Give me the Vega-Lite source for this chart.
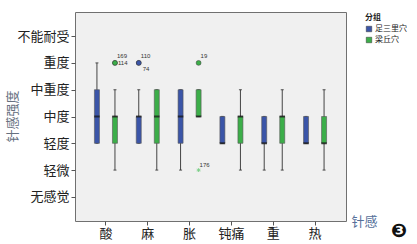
{
  "$schema": "https://vega.github.io/schema/vega-lite/v6.json",
  "width": 271,
  "height": 209,
  "autosize": "none",
  "padding": {"left": 75, "top": 12, "right": 71, "bottom": 23},
  "background": "#ffffff",
  "title": {"text": "❸", "orient": "bottom", "anchor": "end", "frame": "group", "font": "DejaVu Sans", "fontSize": 19, "color": "#111111", "dx": 61, "dy": -18, "offset": 0},
  "config": {
    "view": {"fill": "#f0f0f0", "stroke": "#707070", "strokeWidth": 1},
    "axis": {"grid": false, "domain": false, "tickColor": "#555555", "tickSize": 4, "labelFont": "Noto Sans CJK SC", "labelFontSize": 13, "labelColor": "#222222", "titleFont": "Noto Sans CJK SC", "titleFontSize": 13, "titleFontWeight": "normal", "labelOverlap": false},
    "legend": {"labelFont": "Noto Sans CJK SC", "titleFont": "Noto Sans CJK SC"}
  },
  "datasets": {
    "boxes": [
      {"cat": "酸", "group": "足三里穴", "lo": 3, "q1": 3, "med": 4, "q3": 5, "hi": 6},
      {"cat": "酸", "group": "梁丘穴", "lo": 2, "q1": 3, "med": 4, "q3": 4, "hi": 5},
      {"cat": "麻", "group": "足三里穴", "lo": 3, "q1": 3, "med": 4, "q3": 4, "hi": 5},
      {"cat": "麻", "group": "梁丘穴", "lo": 2, "q1": 3, "med": 4, "q3": 5, "hi": 5},
      {"cat": "胀", "group": "足三里穴", "lo": 2, "q1": 3, "med": 4, "q3": 5, "hi": 5},
      {"cat": "胀", "group": "梁丘穴", "lo": 4, "q1": 4, "med": 4, "q3": 5, "hi": 5},
      {"cat": "钝痛", "group": "足三里穴", "lo": 3, "q1": 3, "med": 3, "q3": 4, "hi": 4},
      {"cat": "钝痛", "group": "梁丘穴", "lo": 2, "q1": 3, "med": 4, "q3": 4, "hi": 5},
      {"cat": "重", "group": "足三里穴", "lo": 2, "q1": 3, "med": 3, "q3": 4, "hi": 4},
      {"cat": "重", "group": "梁丘穴", "lo": 2, "q1": 3, "med": 4, "q3": 4, "hi": 5},
      {"cat": "热", "group": "足三里穴", "lo": 3, "q1": 3, "med": 3, "q3": 4, "hi": 4},
      {"cat": "热", "group": "梁丘穴", "lo": 2, "q1": 3, "med": 3, "q3": 4, "hi": 5}
    ],
    "outliers": [
      {"cat": "酸", "group": "梁丘穴", "value": 6, "id": "169", "kind": "outlier"},
      {"cat": "酸", "group": "梁丘穴", "value": 6, "id": "114", "kind": "outlier"},
      {"cat": "麻", "group": "足三里穴", "value": 6, "id": "110", "kind": "outlier"},
      {"cat": "麻", "group": "足三里穴", "value": 6, "id": "74", "kind": "outlier"},
      {"cat": "胀", "group": "梁丘穴", "value": 6, "id": "19", "kind": "outlier"},
      {"cat": "胀", "group": "梁丘穴", "value": 2, "id": "176", "kind": "extreme"}
    ]
  },
  "encoding": {
    "x": {"field": "cat", "type": "nominal", "sort": ["酸", "麻", "胀", "钝痛", "重", "热"],
      "scale": {"paddingInner": 0, "paddingOuter": 0.24},
      "axis": {"labelAngle": 0, "labelPadding": 2, "title": "针感", "titleColor": "#56709a", "titleX": 289, "titleY": 0, "titleAlign": "center", "titleBaseline": "middle"}},
    "xOffset": {"field": "group", "type": "nominal", "scale": {"domain": ["足三里穴", "梁丘穴"], "paddingInner": 0, "paddingOuter": 0.16}}
  },
  "layer": [
    {
      "data": {"name": "boxes"},
      "mark": {"type": "rule", "color": "#444444", "strokeWidth": 1},
      "encoding": {
        "y": {"field": "lo", "type": "quantitative", "scale": {"domain": [0.1, 7.9], "nice": false, "zero": false},
          "axis": {"values": [1, 2, 3, 4, 5, 6, 7], "labelOverlap": false, "labelExpr": "datum.value == 1 ? '无感觉' : datum.value == 2 ? '轻微' : datum.value == 3 ? '轻度' : datum.value == 4 ? '中度' : datum.value == 5 ? '中重度' : datum.value == 6 ? '重度' : '不能耐受'", "labelPadding": 2, "title": "针感强度", "titleColor": "#66707f", "titleX": -63, "titleY": 104, "titleAlign": "center", "titleBaseline": "middle", "titleAngle": -90}},
        "y2": {"field": "hi"}
      }
    },
    {
      "data": {"name": "boxes"},
      "mark": {"type": "tick", "color": "#333333", "size": 3, "thickness": 1.2},
      "encoding": {"y": {"field": "lo", "type": "quantitative",
          "axis": {"values": [1, 2, 3, 4, 5, 6, 7], "labelOverlap": false, "labelExpr": "datum.value == 1 ? '无感觉' : datum.value == 2 ? '轻微' : datum.value == 3 ? '轻度' : datum.value == 4 ? '中度' : datum.value == 5 ? '中重度' : datum.value == 6 ? '重度' : '不能耐受'", "labelPadding": 2, "title": "针感强度", "titleColor": "#66707f", "titleX": -63, "titleY": 104, "titleAlign": "center", "titleBaseline": "middle", "titleAngle": -90}}}
    },
    {
      "data": {"name": "boxes"},
      "mark": {"type": "tick", "color": "#333333", "size": 3, "thickness": 1.2},
      "encoding": {"y": {"field": "hi", "type": "quantitative",
          "axis": {"values": [1, 2, 3, 4, 5, 6, 7], "labelOverlap": false, "labelExpr": "datum.value == 1 ? '无感觉' : datum.value == 2 ? '轻微' : datum.value == 3 ? '轻度' : datum.value == 4 ? '中度' : datum.value == 5 ? '中重度' : datum.value == 6 ? '重度' : '不能耐受'", "labelPadding": 2, "title": "针感强度", "titleColor": "#66707f", "titleX": -63, "titleY": 104, "titleAlign": "center", "titleBaseline": "middle", "titleAngle": -90}}}
    },
    {
      "data": {"name": "boxes"},
      "mark": {"type": "bar", "size": 5, "stroke": "#555555", "strokeWidth": 0.6},
      "encoding": {
        "y": {"field": "q1", "type": "quantitative",
          "axis": {"values": [1, 2, 3, 4, 5, 6, 7], "labelOverlap": false, "labelExpr": "datum.value == 1 ? '无感觉' : datum.value == 2 ? '轻微' : datum.value == 3 ? '轻度' : datum.value == 4 ? '中度' : datum.value == 5 ? '中重度' : datum.value == 6 ? '重度' : '不能耐受'", "labelPadding": 2, "title": "针感强度", "titleColor": "#66707f", "titleX": -63, "titleY": 104, "titleAlign": "center", "titleBaseline": "middle", "titleAngle": -90}},
        "y2": {"field": "q3"},
        "color": {"field": "group", "type": "nominal", "scale": {"domain": ["足三里穴", "梁丘穴"], "range": ["#3b55a8", "#3cae49"]},
          "legend": {"title": "分组", "orient": "none", "legendX": 290, "legendY": 2, "symbolType": "square", "symbolSize": 30, "symbolStrokeColor": "#333333", "symbolStrokeWidth": 0.5, "labelFontSize": 8, "titleFontSize": 8, "titleFontWeight": "bold", "labelOffset": 2, "rowPadding": 3, "titlePadding": 3, "labelColor": "#222222", "titleColor": "#222222"}}
      }
    },
    {
      "data": {"name": "boxes"},
      "mark": {"type": "tick", "color": "#111111", "size": 5.5, "thickness": 2},
      "encoding": {"y": {"field": "med", "type": "quantitative",
          "axis": {"values": [1, 2, 3, 4, 5, 6, 7], "labelOverlap": false, "labelExpr": "datum.value == 1 ? '无感觉' : datum.value == 2 ? '轻微' : datum.value == 3 ? '轻度' : datum.value == 4 ? '中度' : datum.value == 5 ? '中重度' : datum.value == 6 ? '重度' : '不能耐受'", "labelPadding": 2, "title": "针感强度", "titleColor": "#66707f", "titleX": -63, "titleY": 104, "titleAlign": "center", "titleBaseline": "middle", "titleAngle": -90}}}
    },
    {
      "data": {"name": "outliers"},
      "transform": [{"filter": "datum.kind === 'outlier'"}],
      "mark": {"type": "point", "shape": "circle", "filled": true, "size": 24, "stroke": "#333333", "strokeWidth": 0.5, "opacity": 1},
      "encoding": {"y": {"field": "value", "type": "quantitative",
          "axis": {"values": [1, 2, 3, 4, 5, 6, 7], "labelOverlap": false, "labelExpr": "datum.value == 1 ? '无感觉' : datum.value == 2 ? '轻微' : datum.value == 3 ? '轻度' : datum.value == 4 ? '中度' : datum.value == 5 ? '中重度' : datum.value == 6 ? '重度' : '不能耐受'", "labelPadding": 2, "title": "针感强度", "titleColor": "#66707f", "titleX": -63, "titleY": 104, "titleAlign": "center", "titleBaseline": "middle", "titleAngle": -90}},
        "color": {"field": "group", "type": "nominal", "legend": null}}
    },
    {
      "data": {"name": "outliers"},
      "transform": [{"filter": "datum.kind === 'extreme'"}],
      "mark": {"type": "point", "shape": "M-1,0L1,0M0,-1L0,1M-0.7,-0.7L0.7,0.7M-0.7,0.7L0.7,-0.7", "filled": false, "size": 14, "strokeWidth": 1, "color": "#7fd08a", "opacity": 1},
      "encoding": {"y": {"field": "value", "type": "quantitative",
          "axis": {"values": [1, 2, 3, 4, 5, 6, 7], "labelOverlap": false, "labelExpr": "datum.value == 1 ? '无感觉' : datum.value == 2 ? '轻微' : datum.value == 3 ? '轻度' : datum.value == 4 ? '中度' : datum.value == 5 ? '中重度' : datum.value == 6 ? '重度' : '不能耐受'", "labelPadding": 2, "title": "针感强度", "titleColor": "#66707f", "titleX": -63, "titleY": 104, "titleAlign": "center", "titleBaseline": "middle", "titleAngle": -90}}}
    },
    {
      "data": {"name": "outliers"},
      "transform": [{"filter": "datum.id === '169' || datum.id === '110' || datum.id === '19'"}],
      "mark": {"type": "text", "fontSize": 6, "font": "Liberation Sans", "color": "#333333", "align": "left", "baseline": "middle", "dx": 2, "dy": -7},
      "encoding": {"y": {"field": "value", "type": "quantitative",
          "axis": {"values": [1, 2, 3, 4, 5, 6, 7], "labelOverlap": false, "labelExpr": "datum.value == 1 ? '无感觉' : datum.value == 2 ? '轻微' : datum.value == 3 ? '轻度' : datum.value == 4 ? '中度' : datum.value == 5 ? '中重度' : datum.value == 6 ? '重度' : '不能耐受'", "labelPadding": 2, "title": "针感强度", "titleColor": "#66707f", "titleX": -63, "titleY": 104, "titleAlign": "center", "titleBaseline": "middle", "titleAngle": -90}},
        "text": {"field": "id"}}
    },
    {
      "data": {"name": "outliers"},
      "transform": [{"filter": "datum.id === '114'"}],
      "mark": {"type": "text", "fontSize": 6, "font": "Liberation Sans", "color": "#333333", "align": "left", "baseline": "middle", "dx": 3, "dy": 0},
      "encoding": {"y": {"field": "value", "type": "quantitative",
          "axis": {"values": [1, 2, 3, 4, 5, 6, 7], "labelOverlap": false, "labelExpr": "datum.value == 1 ? '无感觉' : datum.value == 2 ? '轻微' : datum.value == 3 ? '轻度' : datum.value == 4 ? '中度' : datum.value == 5 ? '中重度' : datum.value == 6 ? '重度' : '不能耐受'", "labelPadding": 2, "title": "针感强度", "titleColor": "#66707f", "titleX": -63, "titleY": 104, "titleAlign": "center", "titleBaseline": "middle", "titleAngle": -90}},
        "text": {"field": "id"}}
    },
    {
      "data": {"name": "outliers"},
      "transform": [{"filter": "datum.id === '74'"}],
      "mark": {"type": "text", "fontSize": 6, "font": "Liberation Sans", "color": "#333333", "align": "left", "baseline": "middle", "dx": 4, "dy": 6},
      "encoding": {"y": {"field": "value", "type": "quantitative",
          "axis": {"values": [1, 2, 3, 4, 5, 6, 7], "labelOverlap": false, "labelExpr": "datum.value == 1 ? '无感觉' : datum.value == 2 ? '轻微' : datum.value == 3 ? '轻度' : datum.value == 4 ? '中度' : datum.value == 5 ? '中重度' : datum.value == 6 ? '重度' : '不能耐受'", "labelPadding": 2, "title": "针感强度", "titleColor": "#66707f", "titleX": -63, "titleY": 104, "titleAlign": "center", "titleBaseline": "middle", "titleAngle": -90}},
        "text": {"field": "id"}}
    },
    {
      "data": {"name": "outliers"},
      "transform": [{"filter": "datum.id === '176'"}],
      "mark": {"type": "text", "fontSize": 6, "font": "Liberation Sans", "color": "#333333", "align": "left", "baseline": "middle", "dx": 1, "dy": -5},
      "encoding": {"y": {"field": "value", "type": "quantitative",
          "axis": {"values": [1, 2, 3, 4, 5, 6, 7], "labelOverlap": false, "labelExpr": "datum.value == 1 ? '无感觉' : datum.value == 2 ? '轻微' : datum.value == 3 ? '轻度' : datum.value == 4 ? '中度' : datum.value == 5 ? '中重度' : datum.value == 6 ? '重度' : '不能耐受'", "labelPadding": 2, "title": "针感强度", "titleColor": "#66707f", "titleX": -63, "titleY": 104, "titleAlign": "center", "titleBaseline": "middle", "titleAngle": -90}},
        "text": {"field": "id"}}
    }
  ]
}
